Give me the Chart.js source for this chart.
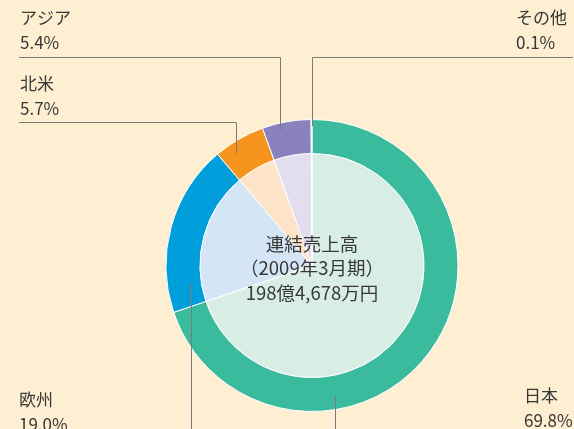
<!DOCTYPE html>
<html lang="ja">
<head>
<meta charset="utf-8">
<title>連結売上高 地域別構成</title>
<script src="https://cdn.jsdelivr.net/npm/chart.js@4/dist/chart.umd.min.js"></script>
<style>
  html, body { margin: 0; padding: 0; background: #feefd2; }
  #wrap { width: 574px; height: 429px; position: relative; }
</style>
</head>
<body>
<div id="wrap"><canvas id="uriageDonut" width="574" height="429"></canvas></div>
<script>
// 地域別売上構成（%）
const regions = ['日本', '欧州', '北米', 'アジア', 'その他'];
const shares = [69.8, 19.0, 5.7, 5.4, 0.1];
const centerLines = ['連結売上高', '（2009年3月期）', '198億4,678万円'];

const ringColors = ['#3abb9d', '#009fdc', '#f7941e', '#8a81bf', '#a9d39a'];
const innerColors = ['#d8eee5', '#d4e6f5', '#fde4c8', '#e2def0', '#e6f1de'];

const FONT = "'Noto Sans CJK JP', 'Noto Sans', sans-serif";
const TEXT_COLOR = '#383838';
const LINE_COLOR = '#7b7b7b';

// ラベルと引き出し線（frac = スライス内の位置, r = 半径）
const callouts = [
  { i: 3, x: 20, y: 18, lineY: 57, side: 'left', frac: 0.34, r: 139 },
  { i: 2, x: 20, y: 84, lineY: 122, side: 'left', frac: 0.31, r: 135.5 },
  { i: 4, x: 516, y: 18, lineY: 57, side: 'right', frac: 0.5, r: 139.5 },
  { i: 1, x: 19, y: 400, side: 'bottom', frac: 0.152, r: 122 },
  { i: 0, x: 524, y: 396, side: 'bottom', frac: 0.676, r: 133.5 }
];

const labelPlugin = {
  id: 'labelPlugin',
  afterDatasetsDraw(chart) {
    const ctx = chart.ctx;
    const meta = chart.getDatasetMeta(0);
    const cx = meta.data[0].x;
    const cy = meta.data[0].y;

    ctx.save();
    // 中央テキスト
    ctx.fillStyle = TEXT_COLOR;
    ctx.font = '18.5px ' + FONT;
    ctx.textAlign = 'center';
    ctx.textBaseline = 'middle';
    centerLines.forEach((t, k) => {
      ctx.fillText(t, cx, cy - 22 + k * 24.5);
    });

    // 引き出し線
    ctx.strokeStyle = LINE_COLOR;
    ctx.lineWidth = 1;
    callouts.forEach(c => {
      const arc = meta.data[c.i];
      const a = arc.startAngle + c.frac * (arc.endAngle - arc.startAngle);
      const ax = Math.round(cx + c.r * Math.cos(a)) + 0.5;
      const ay = cy + c.r * Math.sin(a);
      ctx.beginPath();
      if (c.side === 'left') {
        ctx.moveTo(19, c.lineY + 0.5);
        ctx.lineTo(ax, c.lineY + 0.5);
        ctx.lineTo(ax, ay);
      } else if (c.side === 'right') {
        ctx.moveTo(573, c.lineY + 0.5);
        ctx.lineTo(ax, c.lineY + 0.5);
        ctx.lineTo(ax, ay);
      } else {
        ctx.moveTo(ax, ay);
        ctx.lineTo(ax, chart.height);
      }
      ctx.stroke();

      // ラベル
      ctx.fillStyle = TEXT_COLOR;
      ctx.font = '17px ' + FONT;
      ctx.textAlign = 'left';
      ctx.textBaseline = 'middle';
      ctx.fillText(regions[c.i], c.x, c.y);
      ctx.fillText(shares[c.i].toFixed(1) + '%', c.x, c.y + 25);
    });
    ctx.restore();
  }
};

Chart.defaults.font.family = FONT;

donutCanvas = document.getElementById('uriageDonut');
new Chart(donutCanvas, {
  type: 'pie',
  data: {
    labels: regions,
    datasets: [
      {
        label: '外周',
        data: shares,
        backgroundColor: ringColors,
        borderColor: '#ffffff',
        borderWidth: 1,
        weight: 34
      },
      {
        label: '内側',
        data: shares,
        backgroundColor: innerColors,
        borderColor: '#ffffff',
        borderWidth: 1,
        weight: 112
      }
    ]
  },
  options: {
    responsive: false,
    animation: false,
    radius: 146,
    cutout: 0,
    layout: {
      padding: { left: 100, right: 50, top: 110, bottom: 8 }
    },
    plugins: {
      legend: { display: false },
      tooltip: { enabled: false },
      title: { display: false }
    }
  },
  plugins: [labelPlugin]
});
</script>
</body>
</html>
